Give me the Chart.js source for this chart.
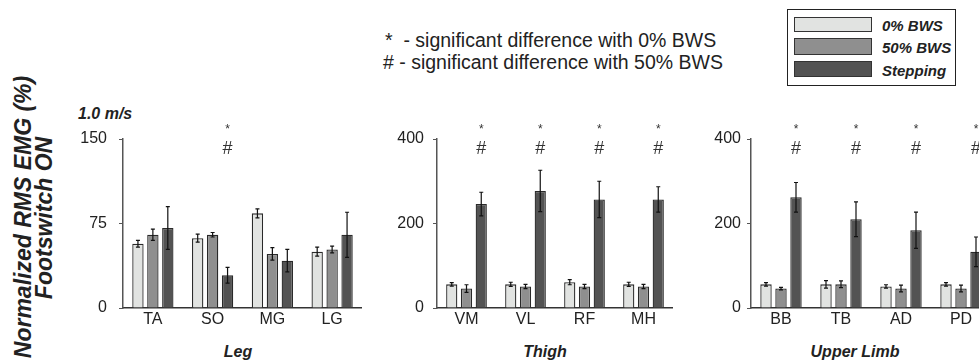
<!DOCTYPE html>
<html>
<head>
<meta charset="utf-8">
<script src="https://cdn.jsdelivr.net/npm/chart.js@4"></script>
<style>
    body { margin: 0; background: #fff; font-family: "Liberation Sans", Arial, sans-serif; }
    #page { position: relative; width: 979px; height: 364px; overflow: hidden; }
    canvas { position: absolute; }
    .txt { position: absolute; white-space: nowrap; color: #222; }
    .bi { font-weight: bold; font-style: italic; }
    .ytitle { position: absolute; white-space: nowrap; font-weight: bold; font-style: italic;
              font-size: 23px; color: #222; transform: translate(-50%, -50%) rotate(-90deg); }
    #legend { position: absolute; left: 787px; top: 9px; width: 167px; height: 75px;
              border: 1.5px solid #222; }
    .sw { position: absolute; left: 6px; width: 76px; border: 1.5px solid #333; }
    .lab { position: absolute; left: 94px; font-size: 15px; font-weight: bold; font-style: italic; color: #222; }
</style>
</head>
<body>
<div id="page">
    <div class="ytitle" style="left:23px; top:217px;">Normalized RMS EMG (%)</div>
    <div class="ytitle" style="left:44px; top:218px;">Footswitch ON</div>
    <div class="txt bi" style="left:78px; top:105px; font-size:16px;">1.0 m/s</div>

    <div class="txt" style="left:385px; top:29px; font-size:19.5px;">*&nbsp; - significant difference with 0% BWS</div>
    <div class="txt" style="left:383px; top:51px; font-size:19.5px;"># - significant difference with 50% BWS</div>

    <div id="legend">
        <div class="sw" style="top:7px; height:13px; background:#e1e3e1;"></div>
        <div class="sw" style="top:28px; height:15px; background:#8f8f8f;"></div>
        <div class="sw" style="top:51px; height:14px; background:#535353;"></div>
        <div class="lab" style="top:7px;">0% BWS</div>
        <div class="lab" style="top:29px;">50% BWS</div>
        <div class="lab" style="top:52px;">Stepping</div>
    </div>

    <canvas id="leg" width="302" height="215" style="left:60px; top:115px;"></canvas>
    <canvas id="thigh" width="293" height="215" style="left:380px; top:115px;"></canvas>
    <canvas id="limb" width="301" height="215" style="left:690px; top:115px;"></canvas>

    <div class="txt bi" style="left:238px; top:343px; font-size:16px; transform:translateX(-50%);">Leg</div>
    <div class="txt bi" style="left:545px; top:343px; font-size:16px; transform:translateX(-50%);">Thigh</div>
    <div class="txt bi" style="left:855px; top:343px; font-size:16px; transform:translateX(-50%);">Upper Limb</div>
</div>

<script>
// Leg
const legCats = ['TA', 'SO', 'MG', 'LG'];
const legBws0 = [57, 62, 84, 50];
const legBws0Err = [3, 3.5, 4, 4];
const legBws50 = [65, 65, 48, 52];
const legBws50Err = [5, 2, 5.5, 3];
const legStep = [71, 29, 42, 65];
const legStepErr = [19, 7, 10, 20];
const legSig = [false, true, false, false];
const legTicks = [0, 75, 150];

// Thigh
const thighCats = ['VM', 'VL', 'RF', 'MH'];
const thighBws0 = [56, 56, 61, 56];
const thighBws0Err = [4, 5, 6, 5];
const thighBws50 = [46, 51, 51, 51];
const thighBws50Err = [9, 5, 5, 5];
const thighStep = [246, 277, 257, 257];
const thighStepErr = [28, 49, 43, 30];
const thighSig = [true, true, true, true];

// Upper limb
const limbCats = ['BB', 'TB', 'AD', 'PD'];
const limbBws0 = [56, 56, 51, 56];
const limbBws0Err = [4, 9, 4, 4];
const limbBws50 = [46, 56, 46, 46];
const limbBws50Err = [3, 8, 8, 8];
const limbStep = [262, 210, 184, 133];
const limbStepErr = [35, 41, 43, 35];
const limbSig = [true, true, true, true];

const bigTicks = [0, 200, 400];

const colors = ['#e1e3e1', '#8f8f8f', '#535353'];

// error bars + significance marks over the stepping bar
const errorBars = {
    id: 'errorBars',
    afterDatasetsDraw(chart) {
        const ctx = chart.ctx;
        const y = chart.scales.y;
        ctx.save();
        ctx.strokeStyle = '#111';
        ctx.lineWidth = 1.2;
        chart.data.datasets.forEach((ds, i) => {
            chart.getDatasetMeta(i).data.forEach((bar, j) => {
                const v = ds.data[j], e = ds.errors[j];
                const t = y.getPixelForValue(v + e), b = y.getPixelForValue(v - e);
                ctx.beginPath();
                ctx.moveTo(bar.x, t); ctx.lineTo(bar.x, b);
                ctx.moveTo(bar.x - 2, t); ctx.lineTo(bar.x + 2, t);
                ctx.moveTo(bar.x - 2, b); ctx.lineTo(bar.x + 2, b);
                ctx.stroke();
            });
        });
        const step = chart.data.datasets[2];
        const top = chart.chartArea.top;
        ctx.fillStyle = '#333';
        ctx.textAlign = 'center';
        ctx.textBaseline = 'middle';
        chart.getDatasetMeta(2).data.forEach((bar, j) => {
            if (!step.sig[j]) return;
            ctx.font = '12px "Liberation Sans", Arial';
            ctx.fillText('*', bar.x, top - 9);
            ctx.font = '18px "Liberation Sans", Arial';
            ctx.fillText('#', bar.x, top + 10);
        });
        ctx.restore();
    }
};

function makePanel(id, cats, b0, e0, b50, e50, st, est, sig, ticks, yWidth, pad) {
    new Chart(document.getElementById(id), {
        type: 'bar',
        data: {
            labels: cats,
            datasets: [
                { label: '0% BWS', data: b0, errors: e0 },
                { label: '50% BWS', data: b50, errors: e50 },
                { label: 'Stepping', data: st, errors: est, sig: sig }
            ].map((d, i) => Object.assign(d, {
                backgroundColor: colors[i],
                borderColor: '#2a2a2a',
                borderWidth: 1.3,
                categoryPercentage: 0.75,
                barPercentage: 0.76
            }))
        },
        options: {
            responsive: false,
            animation: false,
            layout: { padding: { top: 24, right: 0, left: 0, bottom: 0 } },
            plugins: { legend: { display: false }, tooltip: { enabled: false } },
            scales: {
                x: {
                    grid: { display: false, drawTicks: false },
                    border: { color: '#333', width: 1.5 },
                    ticks: { color: '#222', padding: 2, font: { size: 16, family: '"Liberation Sans", Arial' } },
                    afterFit: s => { s.height = 22; }
                },
                y: {
                    min: 0,
                    max: ticks[ticks.length - 1],
                    afterBuildTicks: s => { s.ticks = ticks.map(v => ({ value: v })); },
                    grid: { display: true, drawOnChartArea: false, drawTicks: true, tickLength: 4, color: '#555' },
                    border: { color: '#555', width: 1.5 },
                    ticks: { color: '#222', padding: pad, font: { size: 16, family: '"Liberation Sans", Arial' } },
                    afterFit: s => { s.width = yWidth; }
                }
            }
        },
        plugins: [errorBars]
    });
}

makePanel('leg', legCats, legBws0, legBws0Err, legBws50, legBws50Err, legStep, legStepErr, legSig, legTicks, 63, 12);
makePanel('thigh', thighCats, thighBws0, thighBws0Err, thighBws50, thighBws50Err, thighStep, thighStepErr, thighSig, bigTicks, 57, 9);
makePanel('limb', limbCats, limbBws0, limbBws0Err, limbBws50, limbBws50Err, limbStep, limbStepErr, limbSig, bigTicks, 61, 6);
</script>
</body>
</html>
